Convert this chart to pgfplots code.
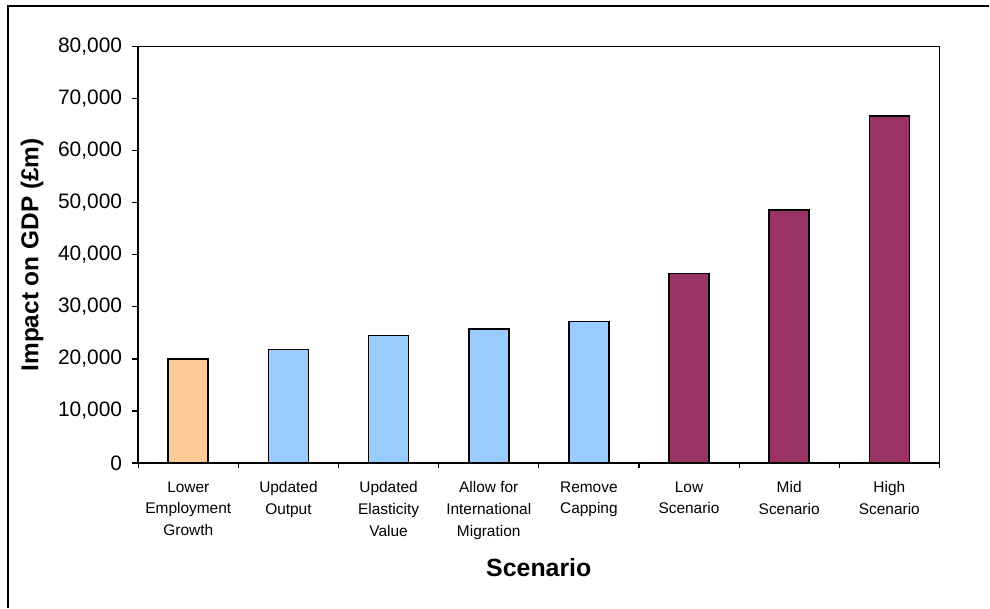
\documentclass[border=0pt]{standalone}
\usepackage{fontspec}
\setmainfont{Liberation Sans}
\usepackage{pgfplots}
\pgfplotsset{compat=1.18}

\definecolor{baseorange}{HTML}{FFCC99}
\definecolor{stepblue}{HTML}{99CCFF}
\definecolor{scenplum}{HTML}{993366}

\begin{document}
\begin{tikzpicture}[x=1bp,y=1bp]
  % page extent
  \path (0,0) rectangle (990,608);
  % outer chart frame
  \draw[line width=1.3bp] (8,0) -- (8,602) -- (990,602);

  \begin{axis}[
    at={(138.3bp,144.7bp)}, anchor=south west,
    scale only axis, width=801.7bp, height=416.6bp,
    xmin=-0.5, xmax=7.5, ymin=0, ymax=80000,
    scaled y ticks=false,
    axis line style={line width=1.6bp},
    tick align=outside,
    major tick length=6bp, minor tick length=5bp,
    every tick/.style={black, line width=1.2bp},
    ytick={0,10000,...,80000},
    yticklabels={0,{10,000},{20,000},{30,000},{40,000},{50,000},{60,000},{70,000},{80,000}},
    ytick pos=left,
    yticklabel style={font=\fontsize{21}{25}\selectfont, inner sep=0pt, xshift=-10bp},
    xtick={0,...,7},
    xticklabels={
      {Lower\\Employment\\Growth},
      {Updated\\Output},
      {Updated\\Elasticity\\Value},
      {Allow for\\International\\Migration},
      {Remove\\Capping},
      {Low\\Scenario},
      {Mid\\Scenario},
      {High\\Scenario}},
    xtick pos=bottom,
    major x tick style={draw=none},
    minor xtick={-0.5,0.5,...,7.5},
    xticklabel style={font=\fontsize{15.5}{21.7}\selectfont, align=center,
      anchor=north, inner sep=0pt, yshift=-12.5bp},
    xlabel={Scenario},
    xlabel style={font=\bfseries\fontsize{25}{30}\selectfont,
      at={(axis description cs:0.5,-0.2722)}, anchor=base},
    ylabel={Impact on GDP (£m)},
    ylabel style={font=\bfseries\fontsize{24.5}{30}\selectfont,
      at={(axis description cs:-0.1326,0.5)}, anchor=center},
  ]
    % baseline employment case
    \addplot[ybar, bar width=40bp, bar shift=0pt, fill=baseorange, draw=black, line width=1.6bp]
      coordinates {(0,20000)};
    % sensitivity steps
    \addplot[ybar, bar width=40bp, bar shift=0pt, fill=stepblue, draw=black, line width=1.6bp]
      coordinates {(1,21800) (2,24500) (3,25700) (4,27200)};
    % scenarios
    \addplot[ybar, bar width=40bp, bar shift=0pt, fill=scenplum, draw=black, line width=1.6bp]
      coordinates {(5,36400) (6,48600) (7,66700)};
  \end{axis}
\end{tikzpicture}
\end{document}
